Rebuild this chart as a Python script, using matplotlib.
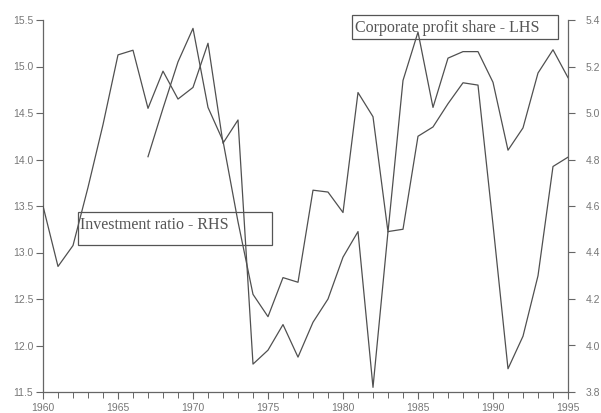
import matplotlib
matplotlib.use("Agg")
import matplotlib.pyplot as plt
from matplotlib.patches import Rectangle
from matplotlib.ticker import MultipleLocator, FixedLocator

# ---- data ----
years_inv = list(range(1960, 1996))
investment_ratio = [4.60, 4.34, 4.43, 4.68, 4.95, 5.25, 5.27, 5.02, 5.18, 5.06,
                    5.11, 5.30, 4.87, 4.97, 3.92, 3.98, 4.09, 3.95, 4.10, 4.20,
                    4.38, 4.49, 3.82, 4.49, 4.50, 4.90, 4.94, 5.04, 5.13, 5.12,
                    4.52, 3.90, 4.04, 4.30, 4.77, 4.81]

years_profit = list(range(1967, 1996))
profit_share = [14.03, 14.55, 15.05, 15.41, 14.56, 14.20, 13.33, 12.55, 12.31, 12.73,
                12.68, 13.67, 13.65, 13.43, 14.72, 14.46, 13.22, 14.85, 15.37, 14.56,
                15.09, 15.16, 15.16, 14.83, 14.10, 14.34, 14.93, 15.18, 14.88]

left_ticks = [11.5, 12.0, 12.5, 13.0, 13.5, 14.0, 14.5, 15.0, 15.5]
right_ticks = [3.8, 4.0, 4.2, 4.4, 4.6, 4.8, 5.0, 5.2, 5.4]
x_ticks = [1960, 1965, 1970, 1975, 1980, 1985, 1990, 1995]

label_profit = "Corporate profit share - LHS"
label_invest = "Investment ratio - RHS"

# ---- figure ----
W, H = 601, 413
fig = plt.figure(figsize=(W / 100, H / 100), dpi=100)
fig.patch.set_facecolor("white")

ax_l, ax_r_px, ax_t, ax_b = 43, 568, 20, 392
ax = fig.add_axes([ax_l / W, (H - ax_b) / H, (ax_r_px - ax_l) / W, (ax_b - ax_t) / H])
ax2 = ax.twinx()

line_col = "#505050"
text_col = "#777777"
spine_col = "#666666"

ax.plot(years_profit, profit_share, color=line_col, lw=0.9)
ax2.plot(years_inv, investment_ratio, color=line_col, lw=0.9)

ax.set_xlim(1960, 1995)
ax.set_ylim(11.5, 15.5)
ax2.set_ylim(3.8, 5.4)

for a in (ax, ax2):
    a.spines["top"].set_visible(False)
    for s in a.spines.values():
        s.set_color(spine_col)
        s.set_linewidth(0.9)
ax.spines["right"].set_visible(False)
ax2.spines["left"].set_visible(False)
ax2.spines["bottom"].set_visible(False)

fs = 7.5
ax.yaxis.set_major_locator(FixedLocator(left_ticks))
ax.set_yticklabels([f"{v:.1f}" for v in left_ticks], color=text_col, fontfamily="Liberation Sans", fontsize=fs)
ax2.yaxis.set_major_locator(FixedLocator(right_ticks))
ax2.set_yticklabels([f"{v:.1f}" for v in right_ticks], color=text_col, fontfamily="Liberation Sans", fontsize=fs)

ax.xaxis.set_major_locator(FixedLocator(x_ticks))
ax.xaxis.set_minor_locator(MultipleLocator(1))
ax.set_xticklabels([str(v) for v in x_ticks], color=text_col, fontfamily="Liberation Sans", fontsize=fs)

ax.tick_params(axis="y", direction="out", length=5, width=0.8, color=spine_col, pad=2)
ax2.tick_params(axis="y", direction="out", length=5, width=0.8, color=spine_col, pad=8)
ax.tick_params(axis="x", which="major", direction="out", length=5, width=0.8, color=spine_col, pad=3)
ax.tick_params(axis="x", which="minor", direction="out", length=4, width=0.7, color=spine_col)

# ---- text boxes ----
def box(x0, y0, x1, y1, text, tx, ty):
    fig.patches.append(Rectangle((x0 / W, (H - y1) / H), (x1 - x0) / W, (y1 - y0) / H,
                                 transform=fig.transFigure, fill=False,
                                 edgecolor="#555555", lw=0.9, zorder=5))
    fig.text(tx / W, (H - ty) / H, text, ha="left", va="center",
             fontfamily="Liberation Serif", fontsize=11.5, color="#555555", zorder=6)

box(78, 212, 272, 245, label_invest, 80, 225)
box(352, 15, 558, 39, label_profit, 355, 28)

fig.savefig("out.png", dpi=100)
